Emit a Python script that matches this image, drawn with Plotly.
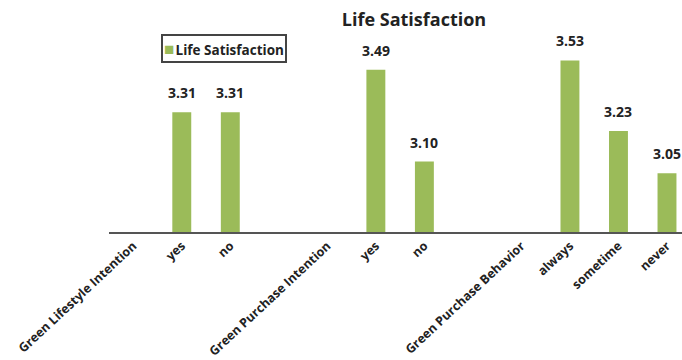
import plotly.graph_objects as go

categories = ["Green Lifestyle Intention", "yes", "no", "",
              "Green Purchase Intention", "yes", "no", "",
              "Green Purchase Behavior", "always", "sometime", "never"]
values = [None, 3.31, 3.31, None, None, 3.49, 3.10, None, None, 3.53, 3.23, 3.05]
series_name = "Life Satisfaction"
title_text = "Life Satisfaction"

positions = list(range(len(categories)))
FONT = "Open Sans"
BAR_COLOR = "#9BBB59"
TEXT_COLOR = "#222222"

fig = go.Figure()
fig.add_trace(go.Bar(
    x=positions, y=values, name=series_name,
    marker=dict(color=BAR_COLOR, line=dict(width=0)),
    showlegend=False,
))

for xi, v in zip(positions, values):
    if v is None:
        continue
    fig.add_annotation(
        x=xi, y=v, text=f"<b>{v:.2f}</b>", showarrow=False,
        xref="x", yref="y", yanchor="bottom", yshift=8,
        font=dict(family=FONT, size=14, color=TEXT_COLOR),
    )

plot_w = 682 - 109
plot_h = 360 - 44 - 128

# legend box (drawn as a bordered annotation)
fig.add_annotation(
    x=(161 - 109) / plot_w, y=(360 - 128 - 34) / plot_h,
    xref="paper", yref="paper",
    text=(f"<span style='color:{BAR_COLOR};font-size:17px'>■</span>"
          f"<span style='font-size:5px'> </span><b>{series_name}</b>"),
    showarrow=False, xanchor="left", yanchor="top",
    bordercolor="#444444", borderwidth=2, borderpad=1, bgcolor="white",
    font=dict(family=FONT, size=13.5, color=TEXT_COLOR),
)

fig.update_layout(
    width=682, height=360,
    margin=dict(l=109, r=0, t=44, b=128),
    paper_bgcolor="white", plot_bgcolor="white",
    bargap=0.61,
    title=dict(text=f"<b>{title_text}</b>", x=414/682, xanchor="center",
               y=1 - 20/360, yanchor="middle",
               font=dict(family=FONT, size=18, color=TEXT_COLOR)),
    xaxis=dict(
        range=[-0.5, (682 - 133.5) / 48.5],
        tickmode="array", tickvals=positions,
        ticktext=[f"<b>{c}</b>" if c else "" for c in categories],
        tickangle=-43, ticks="", showgrid=False, zeroline=False,
        showline=True, linecolor="#555555", linewidth=1.5,
        tickfont=dict(family=FONT, size=12.5, color=TEXT_COLOR),
        automargin=False,
    ),
    yaxis=dict(range=[2.8, 3.6], visible=False, showgrid=False,
               automargin=False),
)

fig.write_html("out.html")
